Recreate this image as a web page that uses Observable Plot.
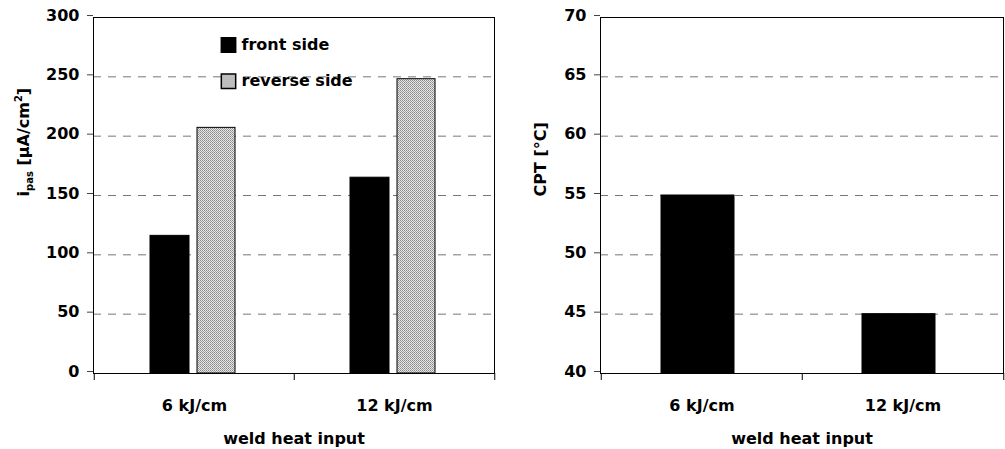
<!DOCTYPE html>
<html>
<head>
<meta charset="utf-8">
<script src="https://cdn.jsdelivr.net/npm/d3@7"></script>
<script src="https://cdn.jsdelivr.net/npm/@observablehq/plot@0.6"></script>
<style>
  html, body { margin: 0; padding: 0; background: #fff; }
  #row { display: flex; flex-direction: row; width: 1005px; height: 449px; }
  svg { display: block; }
</style>
</head>
<body>
<svg width="0" height="0" style="position:absolute">
  <defs>
    <pattern id="hatch" width="2" height="2" patternUnits="userSpaceOnUse">
      <rect width="2" height="2" fill="#e6e6e6"></rect>
      <rect x="0" y="0" width="1" height="1" fill="#8a8a8a"></rect>
      <rect x="1" y="1" width="1" height="1" fill="#a0a0a0"></rect>
    </pattern>
  </defs>
</svg>
<div id="row"></div>
<script>
// ---- data ----
const categories = ["6 kJ/cm", "12 kJ/cm"];
const frontSide = [116, 165];      // i_pas, µA/cm²
const reverseSide = [207, 248];    // i_pas, µA/cm²
const cptValues = [55, 45];        // CPT, °C
const ipasTicks = [0, 50, 100, 150, 200, 250, 300];
const cptTicks = [40, 45, 50, 55, 60, 65, 70];
const legendLabels = ["front side", "reverse side"];
const xLabel = "weld heat input";
const cptLabel = "CPT [°C]";

const rowsIpas = categories.map((c, i) => ({cat: c, front: frontSide[i], reverse: reverseSide[i]}));
const rowsCpt = categories.map((c, i) => ({cat: c, cpt: cptValues[i]}));

const font = {fontFamily: "'DejaVu Sans', sans-serif", fontWeight: "bold", fontSize: "16px", background: "#fff", color: "#000"};

function gridMarks(ticks) {
  return [
    Plot.gridY(ticks.slice(1, -1), {stroke: "#777", strokeOpacity: 1, strokeDasharray: "8,7"}),
  ];
}
function frameMarks(ticks, bw) {
  return [
    Plot.frame({stroke: "#000", strokeWidth: 1}),
    Plot.ruleX(categories, {x: d => d, dx: -bw / 2, insetTop: 356, insetBottom: -7, stroke: "#000"}),
    Plot.ruleX(categories.slice(-1), {x: d => d, dx: bw / 2, insetTop: 356, insetBottom: -7, stroke: "#000"}),
    Plot.axisY({ticks, tickSize: 6, tickPadding: 8, label: null, stroke: "#444", fill: "#000", dy: -2}),
    Plot.axisX({tickSize: 0, tickPadding: 26, label: null, fill: "#000"}),
    Plot.text([xLabel], {text: d => d, frameAnchor: "bottom", lineAnchor: "top", dy: 59, fill: "#000"})
  ];
}

// ---- left chart ----
const bwL = (500 - 93 - 6) / 2;
const left = Plot.plot({
  width: 500, height: 449,
  marginLeft: 93, marginRight: 6, marginTop: 17, marginBottom: 76,
  style: font,
  x: {type: "band", domain: categories, padding: 0},
  y: {domain: [0, 300]},
  marks: [
    ...gridMarks(ipasTicks),
    Plot.barY(rowsIpas, {x: "cat", y: "front", fill: "#000", stroke: "#000", insetLeft: 56, insetRight: 105}),
    Plot.barY(rowsIpas, {x: "cat", y: "reverse", fill: "url(#hatch)", stroke: "#000", insetLeft: 103, insetRight: 59}),
    Plot.dot(legendLabels.slice(0, 1), {frameAnchor: "top-left", dx: 135, dy: 27.5, symbol: "square", r: 8.1, fill: "#000", stroke: "#000"}),
    Plot.dot(legendLabels.slice(1, 2), {frameAnchor: "top-left", dx: 135, dy: 63.8, symbol: "square", r: 8.1, fill: "url(#hatch)", stroke: "#000"}),
    Plot.text(legendLabels.slice(0, 1), {text: d => d, frameAnchor: "top-left", textAnchor: "start", lineAnchor: "middle", dx: 148, dy: 27.2, fill: "#000"}),
    Plot.text(legendLabels.slice(1, 2), {text: d => d, frameAnchor: "top-left", textAnchor: "start", lineAnchor: "middle", dx: 148, dy: 63.6, fill: "#000"}),
    ...frameMarks(ipasTicks, bwL),
    Plot.text(["YLABEL_IPAS"], {text: d => d, frameAnchor: "left", rotate: -90, lineAnchor: "middle", dx: -69.5, dy: 1, fill: "#000"})
  ]
});

// rich y label with subscript / superscript
left.querySelectorAll("text").forEach(t => {
  if (t.textContent === "YLABEL_IPAS") {
    t.textContent = "";
    const ns = "http://www.w3.org/2000/svg";
    const parts = [
      {s: "i"},
      {s: "pas", fs: "10px", dy: 4},
      {s: " [µA/cm", dy: -4},
      {s: "2", fs: "10px", dy: -7},
      {s: "]", dy: 7}
    ];
    parts.forEach(p => {
      const ts = document.createElementNS(ns, "tspan");
      ts.textContent = p.s;
      if (p.fs) ts.setAttribute("font-size", p.fs);
      if (p.dy) ts.setAttribute("dy", p.dy);
      t.appendChild(ts);
    });
  }
});

// ---- right chart ----
const bwR = (505 - 100 - 2) / 2;
const right = Plot.plot({
  width: 505, height: 449,
  marginLeft: 100, marginRight: 2, marginTop: 17, marginBottom: 76,
  style: font,
  x: {type: "band", domain: categories, padding: 0},
  y: {domain: [cptTicks[0], cptTicks[cptTicks.length - 1]]},
  marks: [
    ...gridMarks(cptTicks),
    Plot.barY(rowsCpt, {x: "cat", y1: cptTicks[0], y2: "cpt", fill: "#000", stroke: "#000", insetLeft: 60, insetRight: 68}),
    ...frameMarks(cptTicks, bwR),
    Plot.text([cptLabel], {text: d => d, frameAnchor: "left", rotate: -90, lineAnchor: "middle", dx: -60, dy: 1, fill: "#000"})
  ]
});

const row = document.getElementById("row");
row.appendChild(left);
row.appendChild(right);
</script>
</body>
</html>
